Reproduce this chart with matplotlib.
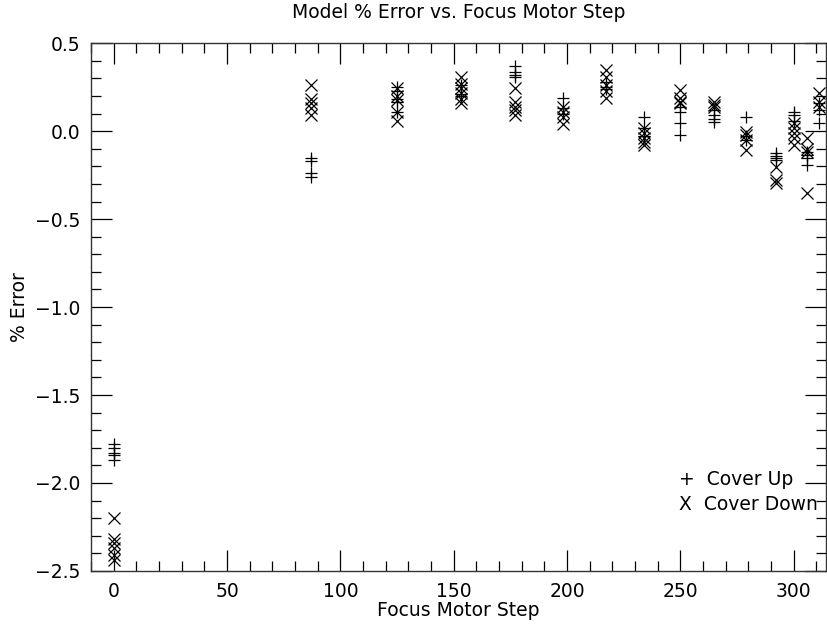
import matplotlib.pyplot as plt
import numpy as np

# focus motor step positions and % error readings, cover up (+) and cover down (x)
up_steps = [0, 0, 0, 0, 0,
            87, 87, 87, 87,
            125, 125, 125, 125, 125,
            153, 153, 153,
            177, 177, 177, 177,
            198, 198, 198,
            217, 217, 217,
            234, 234, 234,
            250, 250, 250, 250,
            265, 265, 265, 265,
            279, 279, 279,
            292, 292, 292, 292,
            300, 300, 300,
            306, 306, 306, 306,
            311, 311, 311]
up_err = [-1.78, -1.80, -1.83, -1.84, -1.87,
          -0.15, -0.17, -0.24, -0.26,
          0.25, 0.23, 0.18, 0.165, 0.11,
          0.26, 0.21, 0.20,
          0.37, 0.335, 0.32, 0.31,
          0.19, 0.13, 0.10,
          0.28, 0.25, 0.24,
          0.08, 0.02, -0.03,
          0.136, 0.11, 0.045, -0.02,
          0.12, 0.09, 0.07, 0.05,
          0.08, -0.03, -0.05,
          -0.125, -0.14, -0.15, -0.165,
          0.11, 0.09, 0.06,
          -0.12, -0.135, -0.155, -0.19,
          0.16, 0.12, 0.045]

down_steps = [0, 0, 0, 0, 0, 0,
              87, 87, 87, 87, 87,
              125, 125, 125, 125, 125,
              153, 153, 153, 153, 153, 153,
              177, 177, 177, 177, 177,
              198, 198, 198, 198,
              217, 217, 217, 217, 217,
              234, 234, 234, 234, 234,
              250, 250, 250, 250,
              265, 265, 265,
              279, 279, 279, 279,
              292, 292, 292,
              300, 300, 300, 300, 300,
              306, 306, 306, 306,
              311, 311, 311]
down_err = [-2.20, -2.32, -2.34, -2.37, -2.41, -2.44,
            0.26, 0.18, 0.16, 0.13, 0.09,
            0.244, 0.20, 0.176, 0.11, 0.06,
            0.31, 0.27, 0.245, 0.215, 0.18, 0.16,
            0.245, 0.165, 0.14, 0.12, 0.09,
            0.14, 0.11, 0.08, 0.04,
            0.35, 0.31, 0.26, 0.23, 0.19,
            0.017, -0.01, -0.04, -0.06, -0.08,
            0.233, 0.19, 0.165, 0.16,
            0.165, 0.15, 0.14,
            -0.005, -0.02, -0.05, -0.11,
            -0.205, -0.28, -0.295,
            0.045, 0.02, -0.01, -0.04, -0.08,
            -0.04, -0.10, -0.12, -0.35,
            0.215, 0.165, 0.136]

y_major = [-2.5, -2.0, -1.5, -1.0, -0.5, 0.0, 0.5]

plt.rcParams['font.family'] = ['DejaVu Sans']
fs = 13.5

fig = plt.figure(figsize=(8.28, 6.26), dpi=100)
ax = fig.add_axes([0.110, 0.088, 0.887, 0.843])

ax.plot(up_steps, up_err, linestyle='none', marker='+', markersize=8.5,
        markeredgewidth=0.9, color='black')
ax.plot(down_steps, down_err, linestyle='none', marker='x', markersize=8,
        markeredgewidth=0.9, color='black')

ax.set_xlim(-10, 314)
ax.set_ylim(-2.5, 0.5)
ax.set_xticks(np.arange(0, 301, 50))
ax.set_xticks(np.arange(-10, 315, 10), minor=True)
ax.set_yticks(y_major)
ax.set_yticks(np.arange(-2.5, 0.51, 0.1), minor=True)
ax.set_yticklabels([('%.1f' % v).replace('-', '\u2212') for v in y_major])

ax.tick_params(which='both', direction='in', top=True, right=True,
               labelsize=fs, colors='black', width=0.9)
ax.tick_params(which='major', length=15, pad=8)
ax.tick_params(which='minor', length=7)
for s in ax.spines.values():
    s.set_linewidth(1.0)
    s.set_color('#333333')

ax.set_title('Model % Error vs. Focus Motor Step', fontsize=fs, pad=18)
ax.set_xlabel('Focus Motor Step', fontsize=fs, labelpad=0)
ax.set_ylabel('% Error', fontsize=fs, labelpad=4)

ax.text(0.80, 0.174, '+  Cover Up', transform=ax.transAxes, fontsize=fs,
        va='center', ha='left')
ax.text(0.80, 0.125, 'X  Cover Down', transform=ax.transAxes, fontsize=fs,
        va='center', ha='left')

plt.savefig('out.png', dpi=100)
